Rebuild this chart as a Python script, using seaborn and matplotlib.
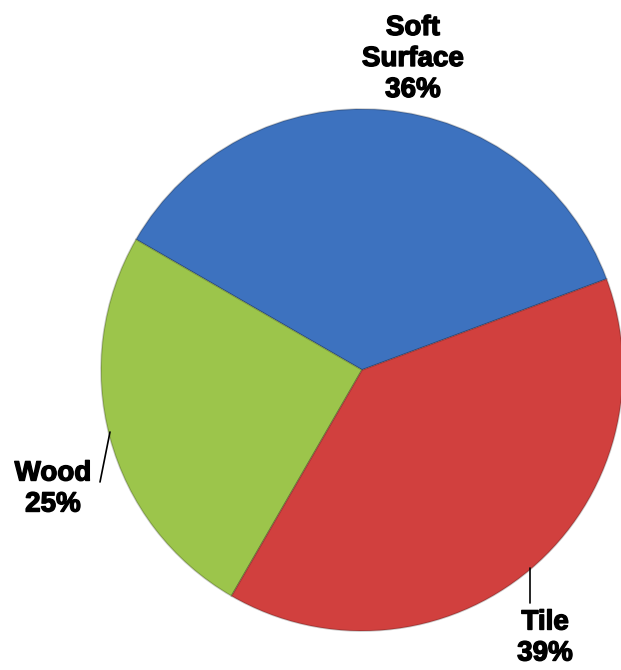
import matplotlib
matplotlib.use("Agg")
import matplotlib.pyplot as plt
import matplotlib.patheffects as pe
import seaborn as sns

categories = ["Soft\nSurface", "Wood", "Tile"]
shares = [36, 25, 39]
colors = ["#3D72BF", "#9CC54B", "#D1403E"]

sns.set_theme(style="white")
plt.rcParams['font.family'] = ['Liberation Sans', 'DejaVu Sans']

W, H = 621, 670
fig = plt.figure(figsize=(W / 100, H / 100), dpi=100)
ax = fig.add_axes([0, 0, 1, 1])

cx, cy, r = 362, H - 370, 261
wedges, _ = ax.pie(shares, colors=colors, startangle=20.4, counterclock=True,
                   center=(cx, cy), radius=r, frame=True,
                   wedgeprops=dict(edgecolor="#00000035", linewidth=1.2))
ax.set_xlim(0, W)
ax.set_ylim(0, H)
ax.axis("off")

label_pos = [(413, H - 59), (53, H - 489), (545, H - 638)]
for cat, val, (x, y) in zip(categories, shares, label_pos):
    ax.text(x, y, f"{cat}\n{val}%", ha="center", va="center",
            fontsize=20, fontweight="bold", color="black", linespacing=1.25,
            path_effects=[pe.withStroke(linewidth=1.0, foreground="black")])

# leader lines
ax.plot([110, 100], [H - 432, H - 482], color="black", lw=1.2)
ax.plot([530, 530], [H - 568, H - 603], color="black", lw=1.2)

fig.savefig("out.png", dpi=100)
